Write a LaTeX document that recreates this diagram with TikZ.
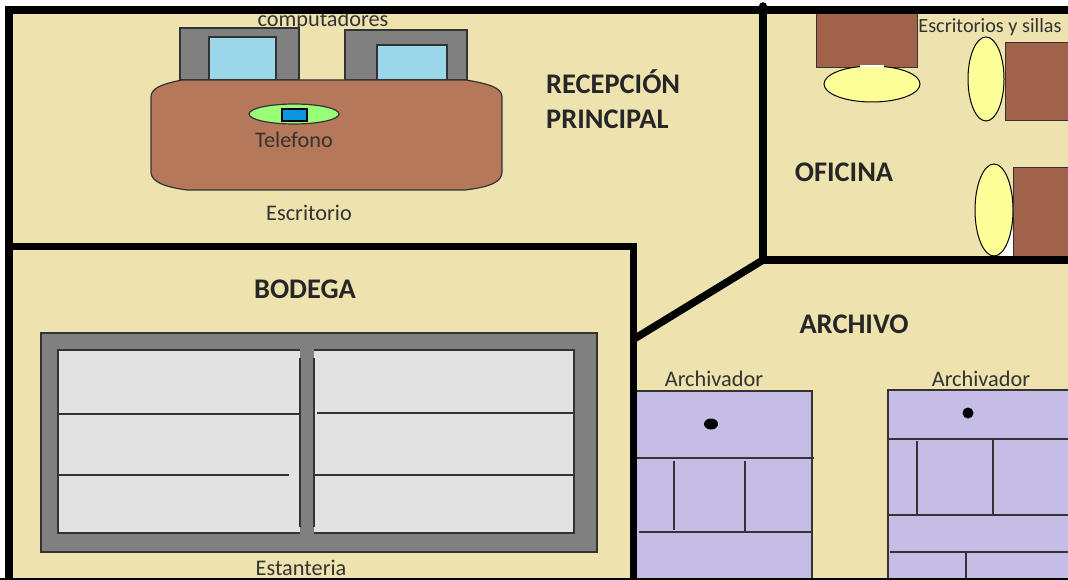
\documentclass[tikz,border=0pt]{standalone}
\usepackage{fontspec}
\setmainfont{Carlito}
\usetikzlibrary{positioning}
\definecolor{floorc}{HTML}{EEE2AE}
\definecolor{deskc}{HTML}{B5785A}
\definecolor{woodc}{HTML}{A0634A}
\definecolor{greyc}{HTML}{808080}
\definecolor{screenc}{HTML}{9BD7EA}
\definecolor{phonec}{HTML}{99FF77}
\definecolor{keyc}{HTML}{0A96E0}
\definecolor{chairc}{HTML}{FFFF99}
\definecolor{shelfc}{HTML}{E2E2E2}
\definecolor{filec}{HTML}{C5BDE5}
\definecolor{inkc}{HTML}{333333}
\tikzset{
    wall/.style={draw=black,line width=7.5pt},
    thin line/.style={draw=inkc,line width=1.2pt},
    room/.style={text=black!85,font=\fontsize{28.4}{30}\selectfont\bfseries,inner sep=0pt},
    tag/.style={text=inkc,font=\fontsize{22.3}{24}\selectfont,inner sep=0pt},
    wood/.style={fill=woodc,draw=inkc,line width=1pt},
    chair/.style={fill=chairc,draw=black,line width=1pt},
}
\begin{document}
\begin{tikzpicture}[x=1pt,y=-1pt]
            \useasboundingbox (0,0) rectangle (1068,580);
            \fill[floorc] (9,10) rectangle (1068,580);
            % recepcion
            \draw[thin line,fill=greyc] (180,28) rectangle (299,80);
            \draw[thin line,fill=screenc] (209,37) rectangle (276,80);
            \draw[thin line,fill=greyc] (345,30) rectangle (467,80);
            \draw[thin line,fill=screenc] (377,45) rectangle (447,80);
            \draw[thin line,fill=deskc] (182,80) -- (466,80) .. controls (490,84) and (502,88) .. (502,97) -- (502,172)
                .. controls (502,182) and (490,187) .. (465,190) -- (187,190) .. controls (165,187) and (151,182) .. (151,172)
                -- (151,97) .. controls (151,88) and (162,84) .. (182,80) -- cycle;
            \draw[thin line,fill=phonec] (294,114) ellipse [x radius=45,y radius=10];
            \draw[draw=black,line width=1.2pt,fill=keyc] (282,109) rectangle (307,121);
            \node[tag] (telefono) at (294,140) {Telefono};
            \node[tag] (escritorio) at (309,213) {Escritorio};
            \node[tag] (computadores) at (323,21) {computadores};
            \node[room,anchor=west] (recepcion) at (546,82) {RECEPCIÓN};
            \node[room,anchor=west] (principal) at (546,119) {PRINCIPAL};
            % oficina
            \draw[wood] (816,14) rectangle (917,68);
            \draw[chair] (872,84) ellipse [x radius=48,y radius=18];
            \fill[white] (860,65.5) rectangle (884,67.5);
            \draw[chair] (986,79) ellipse [x radius=18,y radius=42];
            \draw[wood] (1005,43) rectangle (1069,121);
            \fill[white] (1000,230) rectangle (1013,257);
            \draw[chair] (994,210) ellipse [x radius=19,y radius=46];
            \draw[wood] (1013,168) rectangle (1069,256);
            \node[tag,font=\fontsize{20.2}{22}\selectfont] (sillas) at (990,27) {Escritorios y sillas};
            \node[room] (oficina) at (844,172) {OFICINA};
            % bodega
            \node[room] (bodega) at (305,289) {BODEGA};
            \draw[thin line,fill=greyc] (41,333) rectangle (597,552);
            \draw[thin line,fill=shelfc] (58,350) rectangle (574,533);
            \fill[greyc] (300,349) rectangle (314,534);
            \draw[thin line] (300,358) -- (300,527);
            \draw[thin line] (314,358) -- (314,527);
            \draw[thin line] (58,414) -- (300,414);
            \draw[thin line] (58,475) -- (289,475);
            \draw[thin line] (317,413) -- (574,413);
            \draw[thin line] (315,475) -- (574,475);
            \node[tag] (estanteria) at (301,568) {Estanteria};
            % archivo
            \node[room] (archivo) at (854,324) {ARCHIVO};
            \draw[thin line,fill=filec] (636,391) rectangle (812,581);
            \draw[thin line] (636,458) -- (814,458);
            \draw[thin line] (674,461) -- (674,530);
            \draw[thin line] (745,461) -- (745,532);
            \draw[thin line] (639,532) -- (812,532);
            \fill[black] (711,424) ellipse [x radius=7,y radius=5.5];
            \node[tag] (archivador1) at (714,379) {Archivador};
            \draw[thin line,fill=filec] (888,390) rectangle (1069,581);
            \draw[thin line] (888,439) -- (1068,439);
            \draw[thin line] (917,441) -- (917,515);
            \draw[thin line] (993,439) -- (993,515);
            \draw[thin line] (888,515) -- (1068,515);
            \draw[thin line] (890,552) -- (1068,552);
            \draw[thin line] (966,552) -- (966,580);
            \fill[black] (968,413) circle (5.5);
            \node[tag] (archivador2) at (981,379) {Archivador};
            % paredes
            \coordinate (tl) at (9,10);
            \coordinate (tr) at (1068,10);
            \coordinate (bl) at (9,580);
            \coordinate (m1) at (763,6);
            \coordinate (m2) at (763,260);
            \coordinate (e1) at (1068,260);
            \coordinate (b1) at (9,246.5);
            \coordinate (b2) at (633.5,246.5);
            \coordinate (b3) at (633.5,580);
            \coordinate (d1) at (634,339);
            \draw[wall] (bl) -- (tl) -- (tr);
            \draw[wall,line width=4pt] (0,580) -- (1068,580);
            \draw[wall,line cap=round] (m1) -- (m2);
            \draw[wall] (m2) -- (e1);
            \draw[wall] (b1) -- (b2) -- (b3);
            \draw[wall] (m2) -- (d1);
        \end{tikzpicture}
\end{document}
